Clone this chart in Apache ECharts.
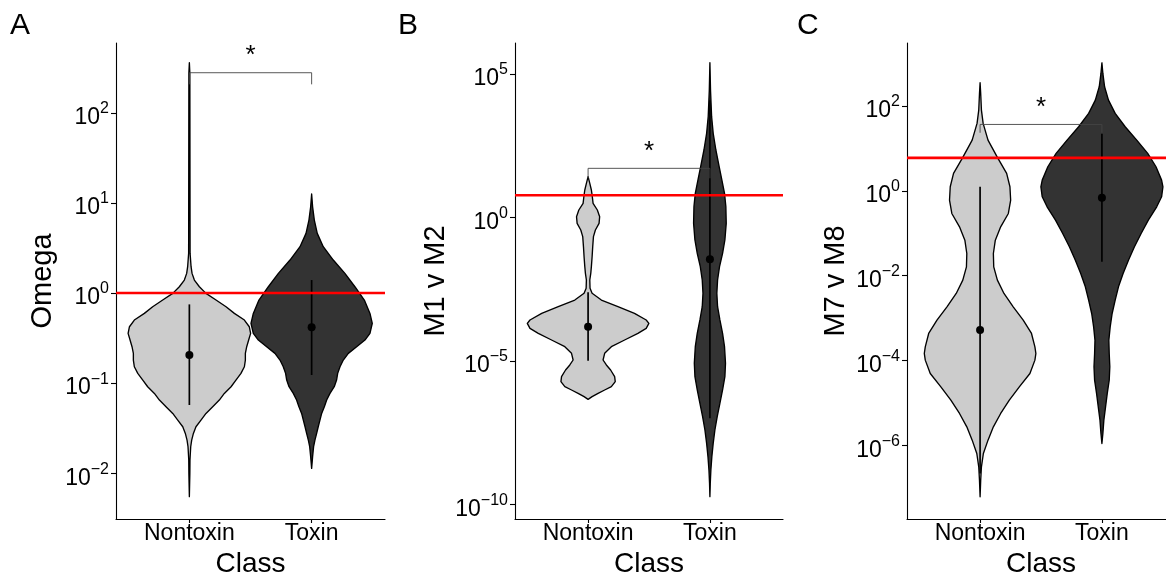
<!DOCTYPE html>
<html>
<head>
<meta charset="utf-8">
<script src="https://cdn.jsdelivr.net/npm/echarts@6.0.0/dist/echarts.min.js"></script>
<style>
html, body { margin: 0; padding: 0; background: #fff; }
#chart { width: 1166px; height: 575px; }
</style>
</head>
<body>
<div id="chart"></div>
<script>
var classes = ['Nontoxin', 'Toxin'];
var panelLetters = ['A', 'B', 'C'];
var yTitles = ['Omega', 'M1 v M2', 'M7 v M8'];
var tickExp = [[-2, -1, 0, 1, 2], [-10, -5, 0, 5], [-6, -4, -2, 0, 2]];
var yMin = [-2.508, -10.505, -7.741];
var yMax = [2.775, 6.080, 3.486];
var refValues = [1, 5.99, 5.99];

// violin outlines: log10(value) and half width (x units)
var omegaNonLog = [2.556, 2.438, 0.440, 0.292, 0.218, 0.144, 0.070, -0.004, -0.078, -0.152, -0.226, -0.300, -0.374, -0.448, -0.522, -0.596, -0.670, -0.744, -0.818, -0.892, -0.966, -1.040, -1.114, -1.188, -1.262, -1.336, -1.410, -1.484, -1.558, -1.632, -1.706, -1.853, -2.001, -2.260];
var omegaNonHalf = [0, 0.004, 0.006, 0.014, 0.022, 0.041, 0.082, 0.136, 0.218, 0.300, 0.368, 0.450, 0.490, 0.501, 0.485, 0.469, 0.458, 0.458, 0.450, 0.422, 0.381, 0.341, 0.286, 0.245, 0.191, 0.136, 0.095, 0.054, 0.033, 0.019, 0.011, 0.005, 0.004, 0];
var omegaToxLog = [1.099, 0.958, 0.810, 0.662, 0.514, 0.366, 0.218, 0.070, -0.078, -0.226, -0.337, -0.448, -0.522, -0.596, -0.670, -0.744, -0.818, -0.892, -0.966, -1.040, -1.114, -1.188, -1.262, -1.336, -1.410, -1.484, -1.558, -1.632, -1.706, -1.816, -1.946];
var omegaToxHalf = [0, 0.008, 0.022, 0.046, 0.095, 0.177, 0.272, 0.354, 0.431, 0.477, 0.496, 0.477, 0.436, 0.368, 0.300, 0.259, 0.232, 0.213, 0.204, 0.185, 0.150, 0.123, 0.104, 0.082, 0.068, 0.054, 0.041, 0.027, 0.016, 0.008, 0];

var m12NonLog = [1.423, 1.190, 0.958, 0.784, 0.494, 0.261, 0.029, -0.203, -0.436, -0.668, -1.016, -1.365, -1.713, -1.945, -2.178, -2.468, -2.642, -2.875, -3.107, -3.339, -3.571, -3.688, -3.862, -4.036, -4.268, -4.501, -4.733, -4.965, -5.139, -5.314, -5.546, -5.720, -5.894, -6.010, -6.127, -6.243, -6.336];
var m12NonHalf = [0, 0.014, 0.027, 0.033, 0.041, 0.076, 0.095, 0.090, 0.060, 0.044, 0.038, 0.033, 0.027, 0.022, 0.014, 0.016, 0.033, 0.109, 0.245, 0.381, 0.477, 0.499, 0.477, 0.409, 0.300, 0.191, 0.136, 0.123, 0.150, 0.185, 0.218, 0.223, 0.191, 0.136, 0.082, 0.033, 0];
var m12ToxLog = [5.395, 4.443, 3.513, 2.933, 2.352, 1.771, 1.307, 0.842, 0.377, -0.203, -0.784, -1.249, -1.713, -2.178, -2.642, -3.107, -3.571, -4.036, -4.501, -5.081, -5.546, -6.010, -6.475, -6.940, -7.404, -7.869, -8.333, -8.798, -9.263, -9.727];
var m12ToxHalf = [0, 0.005, 0.014, 0.027, 0.049, 0.076, 0.098, 0.120, 0.131, 0.134, 0.123, 0.104, 0.079, 0.063, 0.057, 0.063, 0.082, 0.104, 0.120, 0.128, 0.123, 0.104, 0.082, 0.060, 0.041, 0.027, 0.016, 0.008, 0.003, 0];

var m78NonLog = [2.548, 2.296, 1.903, 1.589, 1.196, 0.787, 0.410, 0.095, -0.221, -0.535, -0.850, -1.164, -1.479, -1.793, -2.108, -2.422, -2.737, -3.051, -3.365, -3.680, -3.837, -3.994, -4.309, -4.623, -4.938, -5.252, -5.567, -5.881, -6.196, -6.510, -6.825, -7.218];
var m78NonHalf = [0, 0.005, 0.011, 0.025, 0.065, 0.142, 0.218, 0.245, 0.251, 0.232, 0.169, 0.125, 0.109, 0.112, 0.142, 0.196, 0.272, 0.354, 0.422, 0.450, 0.458, 0.450, 0.409, 0.322, 0.240, 0.169, 0.109, 0.065, 0.027, 0.011, 0.005, 0];
var m78ToxLog = [3.019, 2.768, 2.453, 2.139, 1.825, 1.510, 1.196, 0.881, 0.567, 0.252, 0.095, -0.142, -0.378, -0.692, -1.007, -1.321, -1.636, -1.950, -2.265, -2.579, -2.894, -3.208, -3.523, -3.837, -4.152, -4.466, -4.780, -5.095, -5.409, -5.724, -5.960];
var m78ToxHalf = [0, 0.008, 0.022, 0.054, 0.109, 0.191, 0.286, 0.376, 0.444, 0.490, 0.501, 0.490, 0.450, 0.381, 0.322, 0.267, 0.218, 0.174, 0.136, 0.109, 0.084, 0.068, 0.057, 0.060, 0.065, 0.060, 0.044, 0.030, 0.016, 0.008, 0];

// mean and mean +/- sd in log10 units, [Nontoxin, Toxin]
var meanLog = [[-0.688, -0.381], [-3.804, -1.458], [-3.286, -0.165]];
var lowLog = [[-1.243, -0.910], [-4.989, -6.998], [-6.665, -1.675]];
var highLog = [[-0.126, 0.144], [-2.607, 4.082], [0.095, 1.345]];

// significance brackets (log10 units)
var bracketLog = [2.445, 1.713, 1.565];
var bracketTipLog = [2.316, 1.365, 1.369];
var starLog = [2.694, 2.49, 2.10];
var starText = ['*', '*', '*'];

var violins = [
  [{ log: omegaNonLog, half: omegaNonHalf }, { log: omegaToxLog, half: omegaToxHalf }],
  [{ log: m12NonLog, half: m12NonHalf }, { log: m12ToxLog, half: m12ToxHalf }],
  [{ log: m78NonLog, half: m78NonHalf }, { log: m78ToxLog, half: m78ToxHalf }]
];
var fills = ['#cccccc', '#333333'];

var FONT = 'Liberation Sans';
var gridLeft = [116, 515, 907];
var gridWidth = [269, 268, 268];
var nameGaps = [59, 65, 57];
var letterX = [10, 398, 797];

function powerLabel(v) {
  var e = Math.round(v);
  return '{b|10}{s|' + (e < 0 ? '\u2212' + (-e) : e) + '}';
}

var axisLine = { show: true, onZero: false, lineStyle: { color: '#000', width: 1.1 } };

var grids = [], xAxes = [], yAxes = [], series = [];
for (var p = 0; p < 3; p++) {
  grids.push({ left: gridLeft[p], width: gridWidth[p], top: 43, height: 476, containLabel: false, outerBoundsMode: 'none' });
  xAxes.push({
    type: 'value', gridIndex: p, min: 0.4, max: 2.6,
    axisLine: axisLine,
    axisTick: { show: true, length: 4, customValues: [1, 2], lineStyle: { color: '#000', width: 1.1 } },
    axisLabel: {
      customValues: [1, 2], margin: 3, fontSize: 23, color: '#000', fontFamily: FONT,
      formatter: function (v) { return classes[Math.round(v) - 1]; }
    },
    splitLine: { show: false },
    name: 'Class', nameLocation: 'middle', nameGap: 31,
    nameTextStyle: { fontSize: 28, color: '#000', fontFamily: FONT }
  });
  yAxes.push({
    type: 'value', gridIndex: p, min: yMin[p], max: yMax[p],
    axisLine: axisLine,
    axisTick: { show: true, length: 5, customValues: tickExp[p], lineStyle: { color: '#000', width: 1.1 } },
    axisLabel: {
      customValues: tickExp[p], margin: 7, padding: [10, 0, 0, 0], formatter: powerLabel,
      rich: {
        b: { fontSize: 23, lineHeight: 34, color: '#000', fontFamily: FONT },
        s: { fontSize: 16, lineHeight: 16, verticalAlign: 'top', color: '#000', fontFamily: FONT }
      }
    },
    splitLine: { show: false },
    name: yTitles[p], nameLocation: 'middle', nameGap: nameGaps[p],
    nameTextStyle: { fontSize: 29, color: '#000', fontFamily: FONT }
  });

  // violins
  series.push({
    type: 'custom', xAxisIndex: p, yAxisIndex: p, z: 2, silent: true,
    data: [[1, 0], [2, 1]],
    renderItem: (function (pi) {
      return function (params, api) {
        var x = api.value(0), k = api.value(1);
        var v = violins[pi][k];
        var left = [], right = [];
        for (var i = 0; i < v.log.length; i++) {
          left.push(api.coord([x - v.half[i], v.log[i]]));
          right.unshift(api.coord([x + v.half[i], v.log[i]]));
        }
        return {
          type: 'polygon',
          shape: { points: left.concat(right) },
          style: { fill: fills[k], stroke: '#000', lineWidth: 1.35, lineJoin: 'round' }
        };
      };
    })(p)
  });

  // mean +/- sd
  series.push({
    type: 'custom', xAxisIndex: p, yAxisIndex: p, z: 3, silent: true,
    data: [[1, meanLog[p][0], lowLog[p][0], highLog[p][0]], [2, meanLog[p][1], lowLog[p][1], highLog[p][1]]],
    renderItem: function (params, api) {
      var x = api.value(0);
      var hi = api.coord([x, api.value(3)]);
      var lo = api.coord([x, api.value(2)]);
      var m = api.coord([x, api.value(1)]);
      return {
        type: 'group',
        children: [
          { type: 'line', shape: { x1: hi[0], y1: hi[1], x2: lo[0], y2: lo[1] }, style: { stroke: '#000', lineWidth: 1.7 } },
          { type: 'circle', shape: { cx: m[0], cy: m[1], r: 4 }, style: { fill: '#000' } }
        ]
      };
    }
  });

  // significance bracket
  series.push({
    type: 'custom', xAxisIndex: p, yAxisIndex: p, z: 4, silent: true,
    data: [[1, 2, bracketLog[p], bracketTipLog[p], starLog[p], p]],
    renderItem: function (params, api) {
      var x1 = api.value(0), x2 = api.value(1);
      var bar = api.value(2), tip = api.value(3);
      var pts = [api.coord([x1, tip]), api.coord([x1, bar]), api.coord([x2, bar]), api.coord([x2, tip])];
      var s = api.coord([(x1 + x2) / 2, api.value(4)]);
      return {
        type: 'group',
        children: [
          { type: 'polyline', shape: { points: pts }, style: { stroke: '#444', lineWidth: 0.9, fill: null } },
          { type: 'text', x: s[0], y: s[1] + 6, style: { text: starText[api.value(5)], font: '26px "' + FONT + '"', fill: '#000', align: 'center', verticalAlign: 'middle' } }
        ]
      };
    }
  });

  // reference line
  series.push({
    type: 'custom', xAxisIndex: p, yAxisIndex: p, z: 5, silent: true,
    data: [[Math.log10(refValues[p])]],
    renderItem: function (params, api) {
      var a = api.coord([0.4, api.value(0)]);
      var b = api.coord([2.6, api.value(0)]);
      return { type: 'line', shape: { x1: a[0], y1: a[1], x2: b[0], y2: b[1] }, style: { stroke: '#ff0000', lineWidth: 2.6 } };
    }
  });
}

var chart = echarts.init(document.getElementById('chart'), null, { renderer: 'canvas' });
chart.setOption({
  animation: false,
  backgroundColor: '#fff',
  grid: grids,
  xAxis: xAxes,
  yAxis: yAxes,
  series: series,
  graphic: panelLetters.map(function (t, i) {
    return { type: 'text', x: letterX[i], y: 26, style: { text: t, font: '30px "' + FONT + '"', fill: '#000', verticalAlign: 'middle' } };
  })
});
</script>
</body>
</html>
